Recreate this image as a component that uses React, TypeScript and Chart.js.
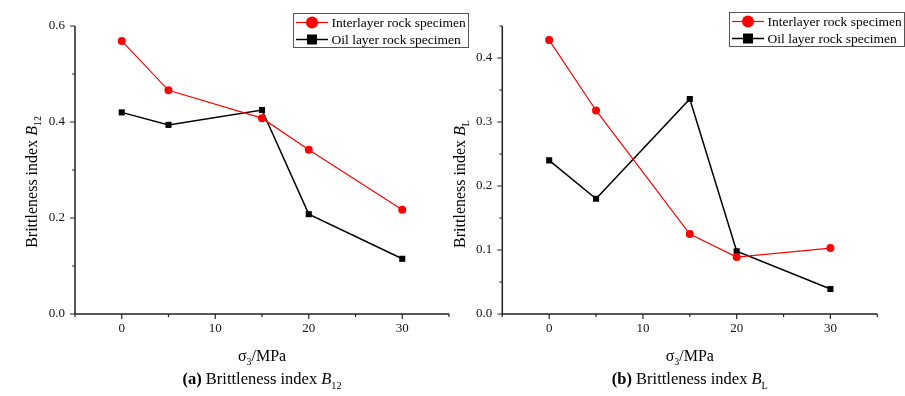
import React, { useEffect, useRef } from 'react';
import { Chart, registerables } from 'chart.js';

Chart.register(...registerables);

// ---------- data ----------
const pressures = [0, 5, 15, 20, 30];
const b12Interlayer = [0.569, 0.466, 0.408, 0.342, 0.217];
const b12OilLayer = [0.42, 0.394, 0.425, 0.208, 0.115];
const bLInterlayer = [0.428, 0.318, 0.125, 0.089, 0.103];
const bLOilLayer = [0.24, 0.18, 0.336, 0.098, 0.039];
const xTickLabels = [0, 10, 20, 30];
const b12TickLabels = [0, 0.2, 0.4, 0.6];
const bLTickLabels = [0, 0.1, 0.2, 0.3, 0.4];
const seriesNames = ['Interlayer rock specimen', 'Oil layer rock specimen'];

const FAMILY = "'Liberation Serif', 'Times New Roman', serif";
const RED = '#ff0000';
const BLACK = '#000000';
const AXIS = '#222222';

type Seg = { t: string; it?: boolean; b?: boolean; sub?: boolean };

function segFont(s: Seg, size: number) {
  const sz = s.sub ? size * 0.62 : size;
  return `${s.it ? 'italic ' : ''}${s.b ? 'bold ' : ''}${sz}px ${FAMILY}`;
}

function drawRich(ctx: CanvasRenderingContext2D, segs: Seg[], cx: number, y: number, size: number) {
  const widths: number[] = [];
  let total = 0;
  for (const s of segs) {
    ctx.font = segFont(s, size);
    const w = ctx.measureText(s.t).width;
    widths.push(w);
    total += w;
  }
  let x = cx - total / 2;
  ctx.textAlign = 'left';
  ctx.textBaseline = 'alphabetic';
  ctx.fillStyle = '#000';
  segs.forEach((s, i) => {
    ctx.font = segFont(s, size);
    ctx.fillText(s.t, x, y + (s.sub ? size * 0.28 : 0));
    x += widths[i];
  });
}

interface Panel {
  interlayer: number[];
  oil: number[];
  yMax: number;
  yStep: number;
  yLabels: number[];
  yTitle: Seg[];
  caption: Seg[];
  canvasLeft: number;
  canvasWidth: number;
  yAxisWidth: number;
  padRight: number;
  yTitleX: number;
  yTitleY: number;
  legendX: number;
  legendY: number;
}

const panels: Panel[] = [
  {
    interlayer: b12Interlayer,
    oil: b12OilLayer,
    yMax: 0.6,
    yStep: 0.1,
    yLabels: b12TickLabels,
    yTitle: [{ t: 'Brittleness index ' }, { t: 'B', it: true }, { t: '12', sub: true }],
    caption: [{ t: '(a)', b: true }, { t: ' Brittleness index ' }, { t: 'B', it: true }, { t: '12', sub: true }],
    canvasLeft: 0,
    canvasWidth: 480,
    yAxisWidth: 75,
    padRight: 31,
    yTitleX: 37,
    yTitleY: 182,
    legendX: 293,
    legendY: 13,
  },
  {
    interlayer: bLInterlayer,
    oil: bLOilLayer,
    yMax: 0.45,
    yStep: 0.05,
    yLabels: bLTickLabels,
    yTitle: [{ t: 'Brittleness index ' }, { t: 'B', it: true }, { t: 'L', sub: true }],
    caption: [{ t: '(b)', b: true }, { t: ' Brittleness index ' }, { t: 'B', it: true }, { t: 'L', sub: true }],
    canvasLeft: 440,
    canvasWidth: 465,
    yAxisWidth: 62.3,
    padRight: 27.7,
    yTitleX: 25,
    yTitleY: 184,
    legendX: 289,
    legendY: 12,
  },
];

function makeDecor(p: Panel) {
  return {
    id: 'decor',
    beforeDatasetsDraw(chart: any) {
      const ctx: CanvasRenderingContext2D = chart.ctx;
      const { left, right, top, bottom } = chart.chartArea;
      const xs = chart.scales.x;
      const ys = chart.scales.y;
      ctx.save();
      ctx.strokeStyle = AXIS;
      ctx.lineWidth = 1.5;
      ctx.beginPath();
      ctx.moveTo(left, top);
      ctx.lineTo(left, bottom);
      ctx.lineTo(right, bottom);
      ctx.stroke();
      ctx.lineWidth = 1.2;
      ctx.beginPath();
      ys.ticks.forEach((t: any, i: number) => {
        const y = ys.getPixelForTick(i);
        const major = p.yLabels.some((m) => Math.abs(m - t.value) < 1e-6);
        ctx.moveTo(left, y);
        ctx.lineTo(left - (major ? 5 : 3), y);
      });
      xs.ticks.forEach((t: any, i: number) => {
        const x = xs.getPixelForTick(i);
        const major = xTickLabels.some((m) => Math.abs(m - t.value) < 1e-6);
        ctx.moveTo(x, bottom);
        ctx.lineTo(x, bottom + (major ? 5 : 3));
      });
      ctx.stroke();
      ctx.restore();
    },
    afterDraw(chart: any) {
      const ctx: CanvasRenderingContext2D = chart.ctx;
      const { left, right } = chart.chartArea;
      const cx = (left + right) / 2;
      ctx.save();
      // x title
      drawRich(ctx, [{ t: 'σ' }, { t: '3', sub: true }, { t: '/MPa' }], cx, 361, 16);
      // caption
      drawRich(ctx, p.caption, cx, 384, 16.5);
      // y title
      ctx.save();
      ctx.translate(p.yTitleX, p.yTitleY);
      ctx.rotate(-Math.PI / 2);
      drawRich(ctx, p.yTitle, 0, 0, 16);
      ctx.restore();
      // legend
      const lx = p.legendX;
      const ly = p.legendY;
      ctx.strokeStyle = '#555';
      ctx.lineWidth = 1;
      ctx.strokeRect(lx + 0.5, ly + 0.5, 175, 34);
      const rows = [
        { y: ly + 9.5, color: RED, style: 'circle', name: seriesNames[0] },
        { y: ly + 26.5, color: BLACK, style: 'rect', name: seriesNames[1] },
      ];
      rows.forEach((r) => {
        ctx.strokeStyle = r.color;
        ctx.lineWidth = r.style === 'circle' ? 1.2 : 1.5;
        ctx.beginPath();
        ctx.moveTo(lx + 3, r.y);
        ctx.lineTo(lx + 35, r.y);
        ctx.stroke();
        ctx.fillStyle = r.color;
        if (r.style === 'circle') {
          ctx.beginPath();
          ctx.arc(lx + 19, r.y, 6, 0, Math.PI * 2);
          ctx.fill();
        } else {
          ctx.fillRect(lx + 19 - 5, r.y - 5, 10, 10);
        }
        ctx.fillStyle = '#000';
        ctx.font = `13.5px ${FAMILY}`;
        ctx.textAlign = 'left';
        ctx.textBaseline = 'middle';
        ctx.fillText(r.name, lx + 38.5, r.y + 0.5);
      });
      ctx.restore();
    },
  };
}

function PanelChart({ p }: { p: Panel }) {
  const ref = useRef<HTMLCanvasElement | null>(null);
  useEffect(() => {
    if (!ref.current) return;
    const isLabel = (arr: number[], v: number) => arr.some((m) => Math.abs(m - v) < 1e-6);
    const chart = new Chart(ref.current, {
      type: 'line',
      data: {
        datasets: [
          {
            label: seriesNames[0],
            data: pressures.map((x, i) => ({ x, y: p.interlayer[i] })),
            borderColor: RED,
            backgroundColor: RED,
            borderWidth: 1.2,
            pointStyle: 'circle',
            pointRadius: 4,
            pointBorderWidth: 0,
            pointBackgroundColor: RED,
            tension: 0,
          },
          {
            label: seriesNames[1],
            data: pressures.map((x, i) => ({ x, y: p.oil[i] })),
            borderColor: BLACK,
            backgroundColor: BLACK,
            borderWidth: 1.5,
            pointStyle: 'rect',
            pointRadius: 4.3,
            pointBorderWidth: 0,
            pointBackgroundColor: BLACK,
            tension: 0,
          },
        ],
      },
      options: {
        animation: false,
        responsive: false,
        events: [],
        layout: { padding: { left: 0, right: p.padRight, top: 26, bottom: 0 } },
        plugins: { legend: { display: false }, tooltip: { enabled: false } },
        scales: {
          x: {
            type: 'linear',
            min: -5,
            max: 35,
            grid: { display: false, drawTicks: false },
            border: { display: false },
            ticks: {
              stepSize: 5,
              autoSkip: false,
              maxRotation: 0,
              padding: 7,
              color: '#111',
              font: { family: FAMILY, size: 13 },
              callback: (v: any) => (isLabel(xTickLabels, Number(v)) ? String(Math.round(Number(v))) : ''),
            },
            afterFit: (s: any) => {
              s.height = 82;
            },
          },
          y: {
            type: 'linear',
            min: 0,
            max: p.yMax,
            grid: { display: false, drawTicks: false },
            border: { display: false },
            ticks: {
              stepSize: p.yStep,
              autoSkip: false,
              padding: 10,
              color: '#111',
              font: { family: FAMILY, size: 13 },
              callback: (v: any) => (isLabel(p.yLabels, Number(v)) ? Number(v).toFixed(1) : ''),
            },
            afterFit: (s: any) => {
              s.width = p.yAxisWidth;
            },
          },
        },
      } as any,
      plugins: [makeDecor(p)],
    });
    return () => chart.destroy();
  }, [p]);
  return (
    <canvas
      ref={ref}
      width={p.canvasWidth}
      height={396}
      style={{ position: 'absolute', left: p.canvasLeft, top: 0, width: p.canvasWidth, height: 396 }}
    />
  );
}

export default function App() {
  return (
    <div style={{ position: 'fixed', left: 0, top: 0, width: 905, height: 396, background: '#fff', overflow: 'hidden' }}>
      {panels.map((p, i) => (
        <PanelChart key={i} p={p} />
      ))}
    </div>
  );
}
